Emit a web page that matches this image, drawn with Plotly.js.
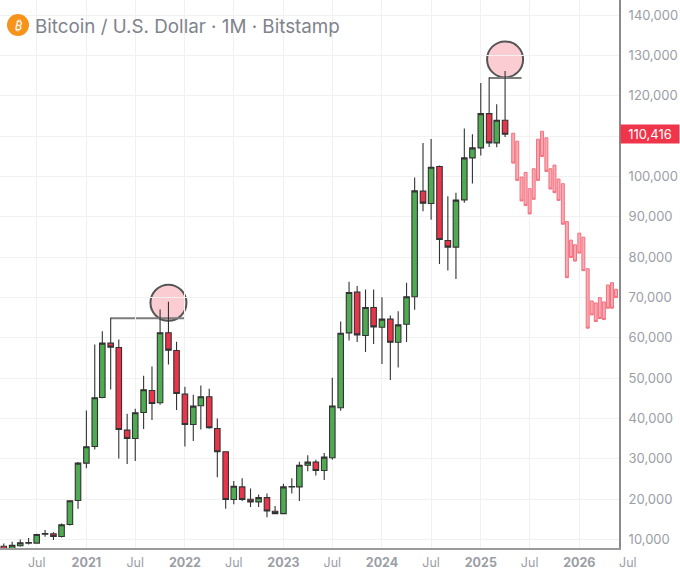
<!DOCTYPE html>
<html><head><meta charset="utf-8">
<script src="https://cdn.plot.ly/plotly-3.0.1.min.js"></script>
<style>html,body{margin:0;padding:0;background:#fff}#c{width:680px;height:573px}</style>
</head><body><div id="c"></div>
<script>
const dates=['2020-03-01','2020-04-01','2020-05-01','2020-06-01','2020-07-01','2020-08-01','2020-09-01','2020-10-01','2020-11-01','2020-12-01',
'2021-01-01','2021-02-01','2021-03-01','2021-04-01','2021-05-01','2021-06-01','2021-07-01','2021-08-01','2021-09-01','2021-10-01','2021-11-01','2021-12-01',
'2022-01-01','2022-02-01','2022-03-01','2022-04-01','2022-05-01','2022-06-01','2022-07-01','2022-08-01','2022-09-01','2022-10-01','2022-11-01','2022-12-01',
'2023-01-01','2023-02-01','2023-03-01','2023-04-01','2023-05-01','2023-06-01','2023-07-01','2023-08-01','2023-09-01','2023-10-01','2023-11-01','2023-12-01',
'2024-01-01','2024-02-01','2024-03-01','2024-04-01','2024-05-01','2024-06-01','2024-07-01','2024-08-01','2024-09-01','2024-10-01','2024-11-01','2024-12-01',
'2025-01-01','2025-02-01','2025-03-01','2025-04-01'];
const open=[8350,7000,8460,9280,9120,11300,11430,10770,13740,19690,
28940,33070,45210,58680,57600,37120,35050,41490,46950,43890,61240,56860,
46040,38520,43150,45380,37530,31750,19910,23050,19990,19330,20400,17010,
16430,23050,23050,28430,29180,27110,30260,42680,61220,71320,60560,67520,
62630,64620,58900,63370,70170,96340,93290,102450,84130,82480,94190,104590,
107060,115560,108300,113910];
const high=[9000,9450,10030,10360,11430,12340,11840,14000,19770,29190,
41990,58350,61650,64960,59590,41170,42400,50580,52900,67020,68920,59010,
47860,45880,48190,47360,40010,31750,24540,25200,22640,21150,21400,18330,
23800,25200,29260,30920,29760,31420,50130,64040,73890,72820,71990,71990,
70080,65530,66600,73640,99730,108300,109290,102690,95100,95930,111850,110450,
123150,124550,117870,126120];
const low=[6000,6500,8200,8790,8950,10690,9860,10520,13500,17630,
27700,32330,45050,47200,30100,28700,29440,37370,39600,43400,53400,42080,
33070,34400,37280,37450,25470,17630,18750,19570,18080,18080,15520,16350,
16430,21400,19570,26940,25870,24790,29760,41930,59320,58990,56500,58490,
53520,49550,52610,58990,66940,91390,89250,78270,76700,74560,93450,98240,
105170,107310,107230,109790];
const close=[7000,8600,9200,9120,11270,11500,10770,13660,19610,28940,
32990,45130,58680,57690,37280,35050,41410,47110,43730,61240,56940,46200,
38520,43070,45380,37700,31750,19940,23220,19910,19330,20400,17090,16430,
23050,23130,28430,29180,27110,30420,43090,61140,71240,60730,67520,62710,
64620,58900,63210,70170,96420,93370,102280,84380,82480,94110,104590,107060,
115560,108300,113910,110450];

const projDates=['2025-05-01','2025-05-16','2025-06-01','2025-06-16','2025-07-01','2025-07-16','2025-08-01','2025-08-16','2025-09-01','2025-09-16','2025-10-01','2025-10-16','2025-11-01','2025-11-16','2025-12-01','2025-12-16','2026-01-01','2026-01-16','2026-02-01','2026-02-16','2026-03-03','2026-03-18','2026-04-02','2026-04-17','2026-05-02','2026-05-17'];
const projTop=[110700,108720,99840,100990,96950,101890,109220,111190,109550,101890,102800,99340,98190,88810,84200,83050,85930,84940,77120,69140,68640,69960,68890,73090,73660,72020];
const projBottom=[103290,99010,93910,92760,90700,94320,99010,104940,101230,96870,95970,94070,88150,74900,79920,79010,80990,76630,62390,65680,64030,64780,64530,67330,67330,69960];

const tickDates=['2020-07-01','2021-01-01','2021-07-01','2022-01-01','2022-07-01','2023-01-01','2023-07-01','2024-01-01','2024-07-01','2025-01-01','2025-07-01','2026-01-01'];
const tickLabels=['Jul','<b>2021</b>','Jul','<b>2022</b>','Jul','<b>2023</b>','Jul','<b>2024</b>','Jul','<b>2025</b>','Jul','<b>2026</b>'];
const priceTicks=[10000,20000,30000,40000,50000,60000,70000,80000,90000,100000,110000,120000,130000,140000];
const priceLabels=['10,000','20,000','30,000','40,000','50,000','60,000','70,000','80,000','90,000','100,000','','120,000','130,000','140,000'];
const lastPrice=110416;
const titleText='Bitcoin / U.S. Dollar · 1M · Bitstamp';
const peak2021=64830, peak2025=124400;

const PW=619, FONT='Inter, "Noto Sans", sans-serif', TICK='#9b9ea5', DARK='#333333';
const xRange=['2020-02-16','2026-05-28'];

const main={type:'candlestick',x:dates,open:open,high:high,low:low,close:close,
  increasing:{line:{color:DARK,width:1.1},fillcolor:'#4fab52'},
  decreasing:{line:{color:DARK,width:1.1},fillcolor:'#ea3449'},
  hoverinfo:'skip',showlegend:false,whiskerwidth:0};
const proj={type:'candlestick',x:projDates,open:projTop,high:projTop,low:projBottom,close:projBottom,xaxis:'x2',
  increasing:{line:{color:'#f3717f',width:1},fillcolor:'#fba9b2'},
  decreasing:{line:{color:'#f3717f',width:1},fillcolor:'#fba9b2'},
  hoverinfo:'skip',showlegend:false,whiskerwidth:0};

const circle=(x,y)=>({type:'circle',layer:'below',xref:'x',yref:'y',xsizemode:'pixel',ysizemode:'pixel',xanchor:x,yanchor:y,
  x0:-18,x1:18,y0:-18,y1:18,fillcolor:'#fbcdd2',line:{color:'#555',width:2}});
const hline=(x0,x1,y)=>({type:'line',layer:'below',xref:'x',yref:'y',x0:x0,x1:x1,y0:y,y1:y,line:{color:'#7d7d7d',width:2}});

const layout={width:680,height:573,margin:{l:0,r:61,t:0,b:25},paper_bgcolor:'#fff',plot_bgcolor:'#fff',showlegend:false,boxgap:0.27,boxgroupgap:0,
  title:{text:titleText,x:35/680,xanchor:'left',xref:'container',y:1-26/573,yanchor:'middle',yref:'container',font:{family:FONT,size:18.8,color:'#80838c'}},
  xaxis:{type:'date',range:xRange,rangeslider:{visible:false},tickmode:'array',tickvals:tickDates,ticktext:tickLabels,
    showgrid:true,gridcolor:'#f1f1f2',gridwidth:1,zeroline:false,showline:true,linecolor:'#9a9a9a',linewidth:2,
    ticks:'outside',ticklen:2,tickcolor:'rgba(0,0,0,0)',tickangle:0,tickfont:{family:FONT,size:12.5,color:TICK}},
  xaxis2:{type:'date',range:xRange,overlaying:'x',visible:false,rangeslider:{visible:false}},
  yaxis:{range:[7907,143717],side:'right',tickmode:'array',tickvals:priceTicks,ticktext:priceLabels,
    showgrid:true,gridcolor:'#f1f1f2',gridwidth:1,zeroline:false,showline:true,linecolor:'#8a8a8a',linewidth:2,
    ticks:'outside',ticklen:5,tickcolor:'rgba(0,0,0,0)',tickfont:{family:FONT,size:13,color:TICK}},
  shapes:[circle('2021-11-01',68700),circle('2025-04-01',129000),
    hline('2021-04-01','2022-01-01',peak2021),hline('2025-02-01','2025-06-01',peak2025),
    {type:'circle',xref:'paper',yref:'paper',xsizemode:'pixel',ysizemode:'pixel',xanchor:18/PW,yanchor:1-25/548,x0:-11,x1:11,y0:-11,y1:11,fillcolor:'#f7931a',line:{width:0}}],
  annotations:[
    {xref:'paper',yref:'paper',x:18/PW,y:1-25/548,xanchor:'center',yanchor:'middle',text:'₿',textangle:12,showarrow:false,font:{family:'"Noto Sans", "DejaVu Sans"',size:13,color:'#fff'}},
    {xref:'paper',yref:'y',x:1,y:lastPrice,xanchor:'left',xshift:1,text:lastPrice.toLocaleString('en-US'),showarrow:false,width:58,height:18,align:'center',valign:'middle',borderpad:0,bgcolor:'#f0354b',font:{family:FONT,size:13,color:'#fff'}},
    {xref:'paper',yref:'paper',x:2/PW,y:0,yanchor:'top',yshift:-5,xanchor:'right',text:'<b>2020</b>',showarrow:false,font:{family:FONT,size:12.5,color:TICK}},
    {xref:'paper',yref:'paper',x:628/PW,y:0,yanchor:'top',yshift:-5,xanchor:'center',text:'Jul',showarrow:false,font:{family:FONT,size:12.5,color:TICK}}
  ]};
Plotly.newPlot('c',[main,proj],layout,{staticPlot:true,displayModeBar:false});
</script></body></html>
